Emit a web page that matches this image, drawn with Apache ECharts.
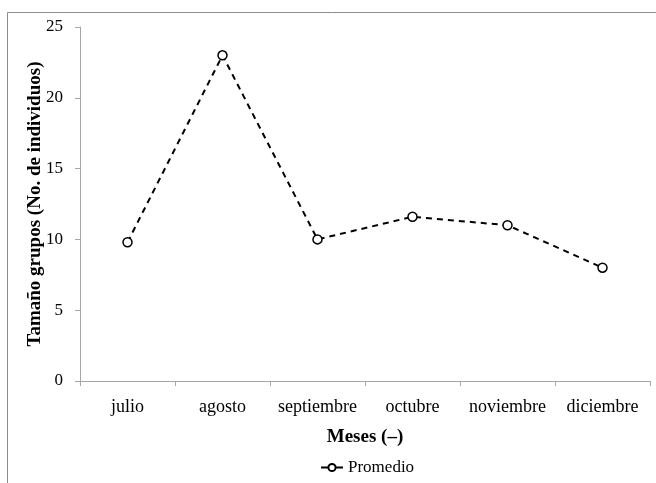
<!DOCTYPE html>
<html>
<head>
<meta charset="utf-8">
<script src="https://cdn.jsdelivr.net/npm/echarts@6/dist/echarts.min.js"></script>
<style>
  html, body { margin: 0; padding: 0; background: #fff; }
  #chart { width: 656px; height: 483px; }
</style>
</head>
<body>
<div id="chart"></div>
<script>
// datos
const meses = ["julio", "agosto", "septiembre", "octubre", "noviembre", "diciembre"];
const promedio = [9.8, 23, 10, 11.6, 11, 8];
const yTicks = { min: 0, max: 25, interval: 5 };

const chart = echarts.init(document.getElementById("chart"));
const serif = "'Liberation Serif', 'Times New Roman', serif";

const option = {
  backgroundColor: "#fff",
  animation: false,
  textStyle: { fontFamily: serif },
  graphic: [
    {
      type: "rect",
      shape: { x: 7.5, y: 12.5, width: 700, height: 520 },
      style: { fill: "none", stroke: "#8c8c8c", lineWidth: 1 },
      silent: true,
    },
  ],
  grid: {
    left: 80,
    top: 27,
    right: 6,
    bottom: 102,
  },
  xAxis: {
    type: "category",
    data: meses,
    boundaryGap: true,
    name: "Meses (–)",
    nameLocation: "middle",
    nameGap: 47,
    nameTextStyle: { fontFamily: serif, fontSize: 19, fontWeight: "bold", color: "#000" },
    axisLine: { lineStyle: { color: "#a6a6a6", width: 1 } },
    axisTick: { show: true, interval: 0, length: 5, inside: false, lineStyle: { color: "#a6a6a6" } },
    axisLabel: { interval: 0, hideOverlap: false, color: "#000", fontSize: 18, fontFamily: serif, margin: 17 },
    splitLine: { show: false },
  },
  yAxis: {
    type: "value",
    min: yTicks.min,
    max: yTicks.max,
    interval: yTicks.interval,
    name: "Tamaño grupos (No. de individuos)",
    nameLocation: "middle",
    nameGap: 35,
    nameMoveOverlap: false,
    nameTextStyle: { fontFamily: serif, fontSize: 19, fontWeight: "bold", color: "#000" },
    axisLine: { show: true, lineStyle: { color: "#a6a6a6", width: 1 } },
    axisTick: { show: true, length: 5, lineStyle: { color: "#a6a6a6" } },
    axisLabel: { color: "#000", fontSize: 17, fontFamily: serif, margin: 17 },
    splitLine: { show: false },
  },
  legend: {
    bottom: 2,
    left: 315,
    itemWidth: 22,
    itemHeight: 9,
    itemGap: 4,
    textStyle: { fontFamily: serif, fontSize: 17, color: "#000" },
    lineStyle: { type: "solid" },
    data: ["Promedio"],
  },
  series: [
    {
      name: "Promedio",
      type: "line",
      data: promedio,
      symbol: "circle",
      symbolSize: 9,
      showSymbol: true,
      lineStyle: { color: "#000", width: 2, type: [6, 5] },
      itemStyle: { color: "#fff", borderColor: "#000", borderWidth: 1.5 },
      emphasis: { disabled: true },
    },
  ],
};

chart.setOption(option);
</script>
</body>
</html>
